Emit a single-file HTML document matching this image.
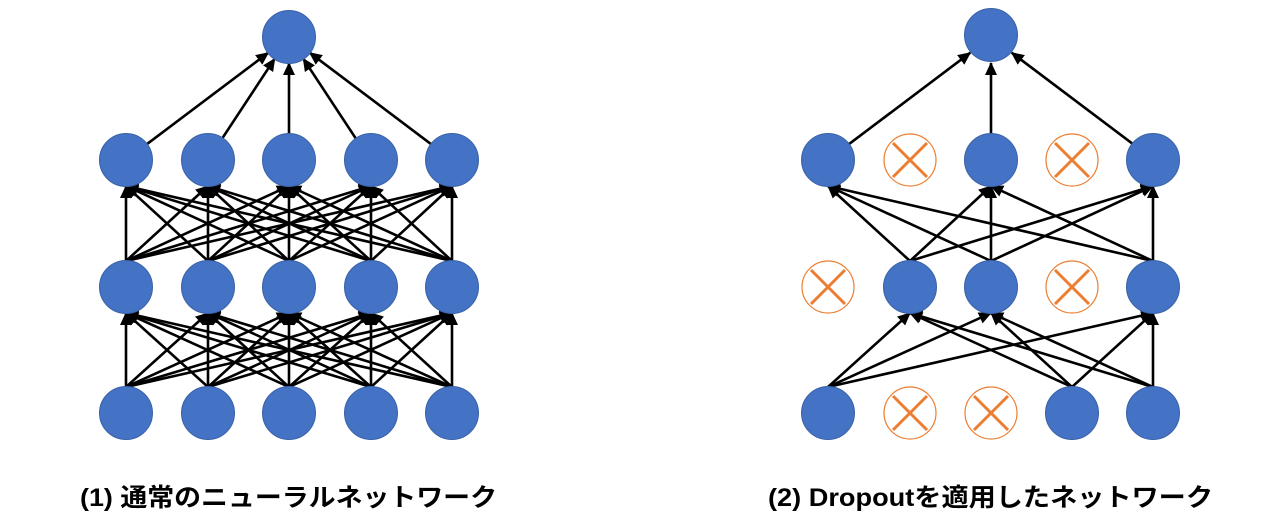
<!DOCTYPE html>
<html><head><meta charset="utf-8"><style>
html,body{margin:0;padding:0;background:#fff;}
svg{display:block}
.l line{stroke:#000;stroke-width:2.6;marker-end:url(#ah)}
.n{fill:#4472C4;stroke:#3a62a8;stroke-width:1}
.x circle{fill:#fff;stroke:#ED7D31;stroke-width:1.2}
.x line{stroke:#ED7D31;stroke-width:3}
text{font-family:"Liberation Sans","Noto Sans CJK JP",sans-serif;font-weight:bold;font-size:25px;fill:#000}
</style></head><body>
<svg width="1277" height="520" viewBox="0 0 1277 520" xmlns="http://www.w3.org/2000/svg">
<defs><marker id="ah" markerUnits="userSpaceOnUse" markerWidth="14" markerHeight="12" refX="12" refY="6" orient="auto"><path d="M0,0 L13,6 L0,12 z" fill="#000"/></marker></defs>
<g class="l">
<!-- left layer1->2 -->
<line x1="126" y1="387" x2="126" y2="313"/><line x1="126" y1="387" x2="208" y2="313"/><line x1="126" y1="387" x2="289" y2="313"/><line x1="126" y1="387" x2="371" y2="313"/><line x1="126" y1="387" x2="452" y2="313"/>
<line x1="208" y1="387" x2="126" y2="313"/><line x1="208" y1="387" x2="208" y2="313"/><line x1="208" y1="387" x2="289" y2="313"/><line x1="208" y1="387" x2="371" y2="313"/><line x1="208" y1="387" x2="452" y2="313"/>
<line x1="289" y1="387" x2="126" y2="313"/><line x1="289" y1="387" x2="208" y2="313"/><line x1="289" y1="387" x2="289" y2="313"/><line x1="289" y1="387" x2="371" y2="313"/><line x1="289" y1="387" x2="452" y2="313"/>
<line x1="371" y1="387" x2="126" y2="313"/><line x1="371" y1="387" x2="208" y2="313"/><line x1="371" y1="387" x2="289" y2="313"/><line x1="371" y1="387" x2="371" y2="313"/><line x1="371" y1="387" x2="452" y2="313"/>
<line x1="452" y1="387" x2="126" y2="313"/><line x1="452" y1="387" x2="208" y2="313"/><line x1="452" y1="387" x2="289" y2="313"/><line x1="452" y1="387" x2="371" y2="313"/><line x1="452" y1="387" x2="452" y2="313"/>
<!-- left layer2->3 -->
<line x1="126" y1="261" x2="126" y2="186"/><line x1="126" y1="261" x2="208" y2="186"/><line x1="126" y1="261" x2="289" y2="186"/><line x1="126" y1="261" x2="371" y2="186"/><line x1="126" y1="261" x2="452" y2="186"/>
<line x1="208" y1="261" x2="126" y2="186"/><line x1="208" y1="261" x2="208" y2="186"/><line x1="208" y1="261" x2="289" y2="186"/><line x1="208" y1="261" x2="371" y2="186"/><line x1="208" y1="261" x2="452" y2="186"/>
<line x1="289" y1="261" x2="126" y2="186"/><line x1="289" y1="261" x2="208" y2="186"/><line x1="289" y1="261" x2="289" y2="186"/><line x1="289" y1="261" x2="371" y2="186"/><line x1="289" y1="261" x2="452" y2="186"/>
<line x1="371" y1="261" x2="126" y2="186"/><line x1="371" y1="261" x2="208" y2="186"/><line x1="371" y1="261" x2="289" y2="186"/><line x1="371" y1="261" x2="371" y2="186"/><line x1="371" y1="261" x2="452" y2="186"/>
<line x1="452" y1="261" x2="126" y2="186"/><line x1="452" y1="261" x2="208" y2="186"/><line x1="452" y1="261" x2="289" y2="186"/><line x1="452" y1="261" x2="371" y2="186"/><line x1="452" y1="261" x2="452" y2="186"/>
<!-- left top -->
<line x1="146.7" y1="144.3" x2="268.3" y2="52.7"/><line x1="222.3" y1="138.3" x2="274.7" y2="58.7"/><line x1="289" y1="134" x2="289" y2="63"/><line x1="355.7" y1="138.3" x2="303.3" y2="58.7"/><line x1="431.3" y1="144.3" x2="309.7" y2="52.7"/>
<!-- right layer1->2: sources 828,1072,1153 ; targets 910,991,1153 -->
<line x1="828" y1="387" x2="910" y2="313"/><line x1="828" y1="387" x2="991" y2="313"/><line x1="828" y1="387" x2="1153" y2="313"/>
<line x1="1072" y1="387" x2="910" y2="313"/><line x1="1072" y1="387" x2="991" y2="313"/><line x1="1072" y1="387" x2="1153" y2="313"/>
<line x1="1153" y1="387" x2="910" y2="313"/><line x1="1153" y1="387" x2="991" y2="313"/><line x1="1153" y1="387" x2="1153" y2="313"/>
<!-- right layer2->3: sources 910,991,1153 ; targets 828,991,1153 -->
<line x1="910" y1="261" x2="828" y2="186"/><line x1="910" y1="261" x2="991" y2="186"/><line x1="910" y1="261" x2="1153" y2="186"/>
<line x1="991" y1="261" x2="828" y2="186"/><line x1="991" y1="261" x2="991" y2="186"/><line x1="991" y1="261" x2="1153" y2="186"/>
<line x1="1153" y1="261" x2="828" y2="186"/><line x1="1153" y1="261" x2="991" y2="186"/><line x1="1153" y1="261" x2="1153" y2="186"/>
<!-- right top -->
<line x1="848.7" y1="144.3" x2="970.3" y2="52.7"/><line x1="991" y1="134" x2="991" y2="63"/><line x1="1133.3" y1="144.3" x2="1011.7" y2="52.7"/>
</g>
<!-- left nodes -->
<circle class="n" cx="289" cy="37" r="26.5"/>
<circle class="n" cx="126" cy="160" r="26.5"/><circle class="n" cx="208" cy="160" r="26.5"/><circle class="n" cx="289" cy="160" r="26.5"/><circle class="n" cx="371" cy="160" r="26.5"/><circle class="n" cx="452" cy="160" r="26.5"/>
<circle class="n" cx="126" cy="287" r="26.5"/><circle class="n" cx="208" cy="287" r="26.5"/><circle class="n" cx="289" cy="287" r="26.5"/><circle class="n" cx="371" cy="287" r="26.5"/><circle class="n" cx="452" cy="287" r="26.5"/>
<circle class="n" cx="126" cy="413" r="26.5"/><circle class="n" cx="208" cy="413" r="26.5"/><circle class="n" cx="289" cy="413" r="26.5"/><circle class="n" cx="371" cy="413" r="26.5"/><circle class="n" cx="452" cy="413" r="26.5"/>
<!-- right nodes -->
<circle class="n" cx="991" cy="35" r="26.5"/>
<circle class="n" cx="828" cy="160" r="26.5"/><circle class="n" cx="991" cy="160" r="26.5"/><circle class="n" cx="1153" cy="160" r="26.5"/>
<circle class="n" cx="910" cy="287" r="26.5"/><circle class="n" cx="991" cy="287" r="26.5"/><circle class="n" cx="1153" cy="287" r="26.5"/>
<circle class="n" cx="828" cy="413" r="26.5"/><circle class="n" cx="1072" cy="413" r="26.5"/><circle class="n" cx="1153" cy="413" r="26.5"/>
<!-- dropped -->
<g class="x">
<g transform="translate(910,160)"><circle r="26"/><line x1="-17" y1="-17" x2="17" y2="17"/><line x1="17" y1="-17" x2="-17" y2="17"/></g>
<g transform="translate(1072,160)"><circle r="26"/><line x1="-17" y1="-17" x2="17" y2="17"/><line x1="17" y1="-17" x2="-17" y2="17"/></g>
<g transform="translate(828,287)"><circle r="26"/><line x1="-17" y1="-17" x2="17" y2="17"/><line x1="17" y1="-17" x2="-17" y2="17"/></g>
<g transform="translate(1072,287)"><circle r="26"/><line x1="-17" y1="-17" x2="17" y2="17"/><line x1="17" y1="-17" x2="-17" y2="17"/></g>
<g transform="translate(910,413)"><circle r="26"/><line x1="-17" y1="-17" x2="17" y2="17"/><line x1="17" y1="-17" x2="-17" y2="17"/></g>
<g transform="translate(991,413)"><circle r="26"/><line x1="-17" y1="-17" x2="17" y2="17"/><line x1="17" y1="-17" x2="-17" y2="17"/></g>
</g>
<text x="80" y="506" textLength="417" lengthAdjust="spacingAndGlyphs">(1) 通常のニューラルネットワーク</text>
<text x="768" y="506" textLength="445" lengthAdjust="spacingAndGlyphs">(2) Dropoutを適用したネットワーク</text>
</svg>
</body></html>
